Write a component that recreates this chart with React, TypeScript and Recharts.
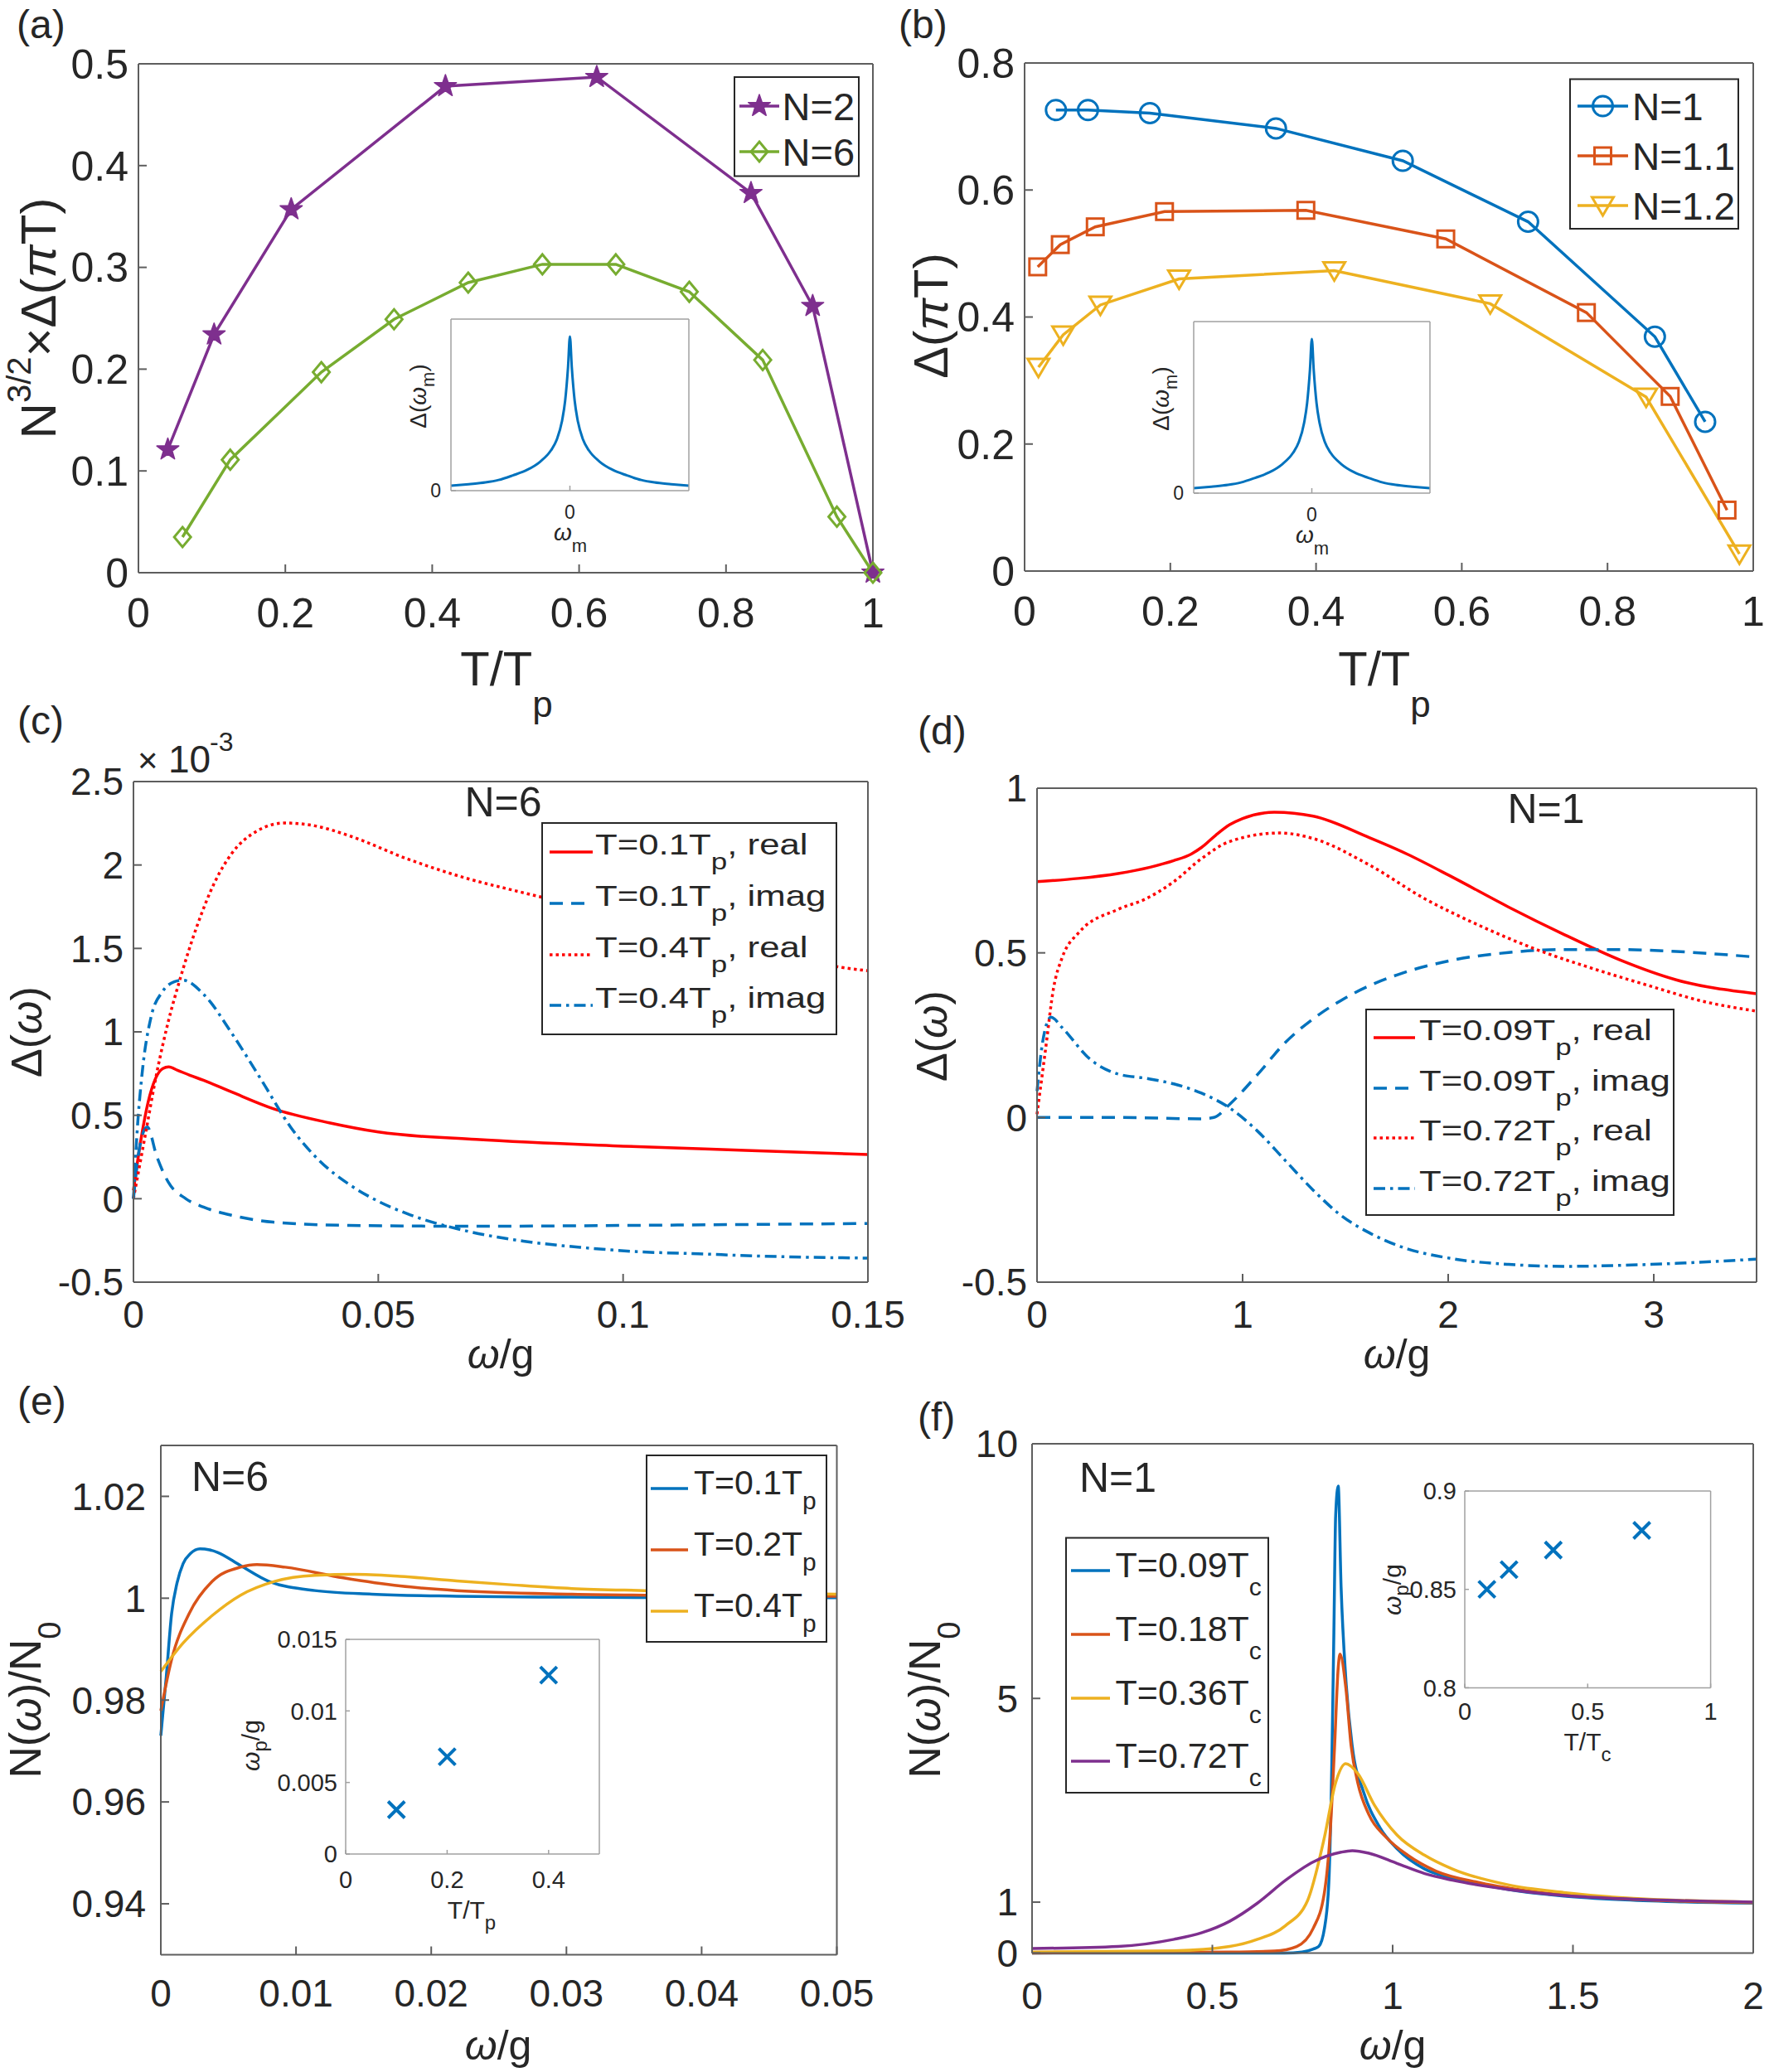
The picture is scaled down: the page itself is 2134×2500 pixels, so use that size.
import React from 'react';
import { LineChart, Line, XAxis, YAxis } from 'recharts';

// ---------- (a) scaled gap at the first Matsubara frequency ----------
const aT_N2 = [0.040, 0.103, 0.208, 0.418, 0.624, 0.834, 0.918, 1.0];
const aG_N2 = [0.121, 0.234, 0.357, 0.478, 0.487, 0.373, 0.262, 0.0];
const aT_N6 = [0.060, 0.125, 0.249, 0.348, 0.449, 0.550, 0.650, 0.750, 0.850, 0.951, 1.0];
const aG_N6 = [0.035, 0.111, 0.197, 0.249, 0.285, 0.303, 0.303, 0.276, 0.209, 0.055, 0.0];

// ---------- (b) gap for N close to 1 ----------
const bT_N1 = [0.043, 0.087, 0.172, 0.345, 0.519, 0.691, 0.865, 0.934];
const bG_N1 = [0.726, 0.726, 0.721, 0.697, 0.646, 0.550, 0.369, 0.235];
const bT_N11 = [0.018, 0.049, 0.097, 0.192, 0.386, 0.578, 0.771, 0.886, 0.964];
const bG_N11 = [0.479, 0.514, 0.542, 0.566, 0.568, 0.523, 0.407, 0.275, 0.096];
const bT_N12 = [0.019, 0.053, 0.104, 0.212, 0.425, 0.639, 0.853, 0.981];
const bG_N12 = [0.321, 0.372, 0.419, 0.460, 0.473, 0.421, 0.274, 0.027];

// ---------- insets of (a), (b): Matsubara gap profile ----------
const insetWm = [-1, -0.85, -0.71, -0.6, -0.48, -0.36, -0.25, -0.16, -0.11, -0.065, -0.04, -0.016, 0,
  0.016, 0.04, 0.065, 0.11, 0.16, 0.25, 0.36, 0.48, 0.6, 0.71, 0.85, 1];
const insetDm = [0.029, 0.038, 0.048, 0.062, 0.089, 0.121, 0.169, 0.234, 0.298, 0.411, 0.524, 0.718, 0.898,
  0.718, 0.524, 0.411, 0.298, 0.234, 0.169, 0.121, 0.089, 0.062, 0.048, 0.038, 0.029];

// ---------- (c) real-axis gap, N=6 (units of 1e-3) ----------
const cW_re01 = [0, 0.0015, 0.003, 0.0045, 0.006, 0.0072, 0.009, 0.0115, 0.0143, 0.02, 0.0285, 0.04, 0.05, 0.07, 0.1, 0.125, 0.15];
const cD_re01 = [0.05, 0.35, 0.58, 0.72, 0.78, 0.79, 0.77, 0.74, 0.71, 0.64, 0.54, 0.455, 0.40, 0.355, 0.315, 0.29, 0.265];
const cW_im01 = [0, 0.0012, 0.0028, 0.0048, 0.0071, 0.0107, 0.0143, 0.0202, 0.0285, 0.044, 0.07, 0.1, 0.15];
const cD_im01 = [0, 0.3, 0.43, 0.25, 0.1, 0.0, -0.05, -0.1, -0.14, -0.16, -0.165, -0.16, -0.148];
const cW_re04 = [0, 0.0024, 0.0048, 0.0071, 0.0095, 0.0131, 0.0166, 0.0202, 0.025, 0.0309, 0.037, 0.044, 0.0559, 0.0677, 0.0796, 0.09, 0.11, 0.13, 0.1438, 0.15];
const cD_re04 = [0, 0.38, 0.76, 1.06, 1.315, 1.644, 1.897, 2.074, 2.2, 2.252, 2.235, 2.176, 2.037, 1.923, 1.834, 1.76, 1.6, 1.47, 1.39, 1.366];
const cW_im04 = [0, 0.0007, 0.0018, 0.0036, 0.0059, 0.0083, 0.0101, 0.0143, 0.0202, 0.0262, 0.0321, 0.038, 0.044, 0.0499, 0.0559, 0.0677, 0.0796, 0.0915, 0.1034, 0.1153, 0.127, 0.15];
const cD_im04 = [0, 0.38, 0.76, 1.09, 1.24, 1.30, 1.31, 1.226, 0.986, 0.708, 0.429, 0.227, 0.087, -0.014, -0.09, -0.191, -0.254, -0.292, -0.318, -0.33, -0.343, -0.356];

// ---------- (d) real-axis gap, N=1 ----------
const dW_re009 = [0, 0.2, 0.394, 0.55, 0.665, 0.75, 0.8, 0.869, 0.937, 1.0, 1.154, 1.344, 1.616, 1.8, 2.023, 2.294, 2.566, 2.837, 3.109, 3.5];
const dD_re009 = [0.716, 0.726, 0.741, 0.76, 0.78, 0.80, 0.82, 0.857, 0.889, 0.908, 0.927, 0.915, 0.85, 0.80, 0.729, 0.639, 0.555, 0.478, 0.418, 0.376];
const dW_im009 = [0, 0.4, 0.8, 0.86, 0.937, 1.072, 1.208, 1.344, 1.48, 1.616, 1.751, 2.023, 2.294, 2.566, 2.837, 3.109, 3.5];
const dD_im009 = [0, 0, -0.004, 0.0, 0.04, 0.13, 0.228, 0.3, 0.356, 0.4, 0.433, 0.478, 0.501, 0.51, 0.51, 0.504, 0.487];
const dW_re072 = [0, 0.04, 0.081, 0.122, 0.204, 0.394, 0.529, 0.665, 0.8, 0.937, 1.18, 1.344, 1.616, 1.887, 2.159, 2.43, 2.7, 2.973, 3.245, 3.5];
const dD_re072 = [0.01, 0.2, 0.395, 0.485, 0.562, 0.632, 0.664, 0.716, 0.786, 0.838, 0.864, 0.847, 0.767, 0.664, 0.581, 0.51, 0.453, 0.401, 0.352, 0.323];
const dW_im072 = [0, 0.027, 0.068, 0.122, 0.258, 0.394, 0.529, 0.665, 0.8, 0.937, 1.072, 1.208, 1.344, 1.48, 1.616, 1.751, 2.023, 2.294, 2.566, 2.837, 3.109, 3.5];
const dD_im072 = [0.08, 0.228, 0.305, 0.273, 0.177, 0.132, 0.119, 0.102, 0.074, 0.029, -0.041, -0.131, -0.221, -0.298, -0.35, -0.388, -0.429, -0.446, -0.452, -0.449, -0.443, -0.43];

// ---------- (e) density of states, N=6 ----------
const eW_01 = [0, 0.0004, 0.0008, 0.0012, 0.00165, 0.0022, 0.0029, 0.0036, 0.0042, 0.0059, 0.008, 0.0114, 0.0156, 0.0219, 0.0304, 0.04, 0.05];
const eN_01 = [0.973, 0.9845, 0.997, 1.003, 1.0068, 1.0088, 1.0097, 1.0095, 1.009, 1.0064, 1.0033, 1.0015, 1.0008, 1.0004, 1.0002, 1.0001, 1.0001];
const eW_02 = [0, 0.0008, 0.0021, 0.0038, 0.0059, 0.0071, 0.0092, 0.0135, 0.0177, 0.0219, 0.0304, 0.04, 0.05];
const eN_02 = [0.9779, 0.988, 0.997, 1.0033, 1.0061, 1.0066, 1.0061, 1.004, 1.0024, 1.0015, 1.0008, 1.0005, 1.0004];
const eW_04 = [0, 0.00165, 0.0038, 0.0059, 0.0084, 0.0114, 0.0143, 0.0177, 0.0219, 0.0261, 0.0304, 0.0358, 0.05];
const eN_04 = [0.9856, 0.9912, 0.9966, 1.0006, 1.0033, 1.0045, 1.0047, 1.0043, 1.0034, 1.0026, 1.0019, 1.0015, 1.0008];
const eInT = [0.1, 0.2, 0.4];
const eInWp = [0.0031, 0.0068, 0.0125];

// ---------- (f) density of states, N=1 ----------
const fW_009 = [0, 0.5, 0.7, 0.749, 0.78, 0.795, 0.811, 0.823, 0.831, 0.837, 0.842, 0.849, 0.857, 0.87, 0.888, 0.919, 0.965, 1.012, 1.089, 1.166, 1.32, 1.475, 1.63, 1.784, 2];
const fN_009 = [0, 0, 0, 0.02, 0.08, 0.13, 0.49, 1.38, 3.6, 6.3, 8.6, 9.17, 7.19, 5.4, 4.06, 3.17, 2.46, 2.05, 1.65, 1.47, 1.25, 1.12, 1.05, 1.01, 0.98];
const fW_018 = [0, 0.548, 0.672, 0.734, 0.78, 0.811, 0.826, 0.839, 0.849, 0.854, 0.87, 0.885, 0.903, 0.934, 0.981, 1.042, 1.12, 1.243, 1.398, 1.63, 2];
const fN_018 = [0, 0.02, 0.04, 0.13, 0.49, 1.2, 2.28, 4.06, 5.6, 5.87, 5.22, 4.06, 3.35, 2.72, 2.28, 1.92, 1.61, 1.38, 1.2, 1.07, 0.99];
const fW_036 = [0, 0.394, 0.548, 0.625, 0.703, 0.764, 0.811, 0.842, 0.87, 0.903, 0.95, 1.012, 1.089, 1.166, 1.32, 1.475, 1.63, 2];
const fN_036 = [0.02, 0.045, 0.13, 0.27, 0.54, 1.03, 2.28, 3.35, 3.72, 3.53, 2.9, 2.32, 1.92, 1.65, 1.34, 1.19, 1.09, 1.0];
const fW_072 = [0, 0.239, 0.394, 0.471, 0.548, 0.625, 0.703, 0.78, 0.857, 0.888, 0.934, 1.012, 1.089, 1.166, 1.32, 1.475, 1.63, 2];
const fN_072 = [0.09, 0.13, 0.27, 0.4, 0.625, 0.98, 1.43, 1.79, 1.98, 2.01, 1.96, 1.76, 1.56, 1.43, 1.25, 1.13, 1.07, 1.0];
const fInT = [0.09, 0.18, 0.36, 0.72];
const fInWp = [0.85, 0.86, 0.87, 0.88];

// ---------- styling ----------
const FONT = '"Liberation Sans", Arial, Helvetica, sans-serif';
const INK = '#262626';
const BOX = '#5e5e5e';
const BOX_IN = '#a0a0a0';
const BLUE = '#0072BD';
const ORANGE = '#D95319';
const YELLOW = '#EDB120';
const PURPLE = '#7E2F8E';
const GREEN = '#77AC30';
const RED = '#FF0000';
const DASH = '16 10';
const DOT = '3.5 4';
const DASHDOT = '14 6 3.5 6';

type Pt = { x: number; y: number };
const pts = (xs: number[], ys: number[]): Pt[] => xs.map((x, i) => ({ x, y: ys[i] }));

type MarkerKind = 'star' | 'diamond' | 'circle' | 'square' | 'tri' | 'x';

function starPoints(cx: number, cy: number, R: number) {
  const r = R * 0.4;
  const out: string[] = [];
  for (let k = 0; k < 10; k++) {
    const a = -Math.PI / 2 + (k * Math.PI) / 5;
    const rr = k % 2 === 0 ? R : r;
    out.push(`${cx + rr * Math.cos(a)},${cy + rr * Math.sin(a)}`);
  }
  return out.join(' ');
}

function Marker({ kind, cx, cy, color }: { kind: MarkerKind; cx: number; cy: number; color: string }) {
  switch (kind) {
    case 'star':
      return <polygon points={starPoints(cx, cy, 14)} fill={color} stroke={color} strokeWidth={1.5} strokeLinejoin="round" />;
    case 'diamond':
      return <polygon points={`${cx},${cy - 12} ${cx + 10},${cy} ${cx},${cy + 12} ${cx - 10},${cy}`} fill="none" stroke={color} strokeWidth={3} />;
    case 'circle':
      return <circle cx={cx} cy={cy} r={12} fill="none" stroke={color} strokeWidth={3} />;
    case 'square':
      return <rect x={cx - 10} y={cy - 10} width={20} height={20} fill="none" stroke={color} strokeWidth={3} />;
    case 'tri':
      return <polygon points={`${cx - 13},${cy - 10} ${cx + 13},${cy - 10} ${cx},${cy + 12}`} fill="none" stroke={color} strokeWidth={3} strokeLinejoin="miter" />;
    default:
      return (
        <path d={`M${cx - 10},${cy - 10}L${cx + 10},${cy + 10}M${cx - 10},${cy + 10}L${cx + 10},${cy - 10}`} stroke={color} strokeWidth={4} fill="none" />
      );
  }
}

const dotOf = (kind: MarkerKind, color: string) => (p: any) =>
  <Marker key={`m-${p.index}`} kind={kind} cx={p.cx} cy={p.cy} color={color} />;

// ---------- frame: box axes with inward ticks on four sides ----------
type FrameSpec = {
  left: number; top: number; w: number; h: number;
  xd: [number, number]; xt: number[];
  yd: [number, number]; yt: number[];
  fs: number; xgap: number; ygap: number; tl: number;
  stroke: string; sw: number; yw: number; xh: number;
  bg?: boolean;
};

const MT = 40;
const MR = 70;

function Frame({ f, children }: { f: FrameSpec; children?: React.ReactNode }) {
  const width = f.yw + f.w + 1 + MR;
  const height = MT + 1 + f.h + f.xh;
  const tickStyle = { fill: INK, fontSize: f.fs, fontFamily: FONT };
  const blank = () => '';
  return (
    <>
      {f.bg && (
        <div style={{ position: 'absolute', left: f.left, top: f.top, width: f.w, height: f.h, background: '#fff' }} />
      )}
      <div style={{ position: 'absolute', left: f.left - f.yw, top: f.top - MT - 1 }}>
        <LineChart width={width} height={height} margin={{ top: MT, right: MR, bottom: 0, left: 0 }}>
          <XAxis xAxisId="b" type="number" dataKey="x" domain={f.xd} ticks={f.xt} interval={0}
            height={f.xh} tickSize={-f.tl} tickMargin={f.tl + f.xgap} stroke={f.stroke} strokeWidth={f.sw}
            tick={tickStyle} />
          <XAxis xAxisId="t" orientation="top" type="number" dataKey="x" domain={f.xd} ticks={f.xt} interval={0}
            height={1} tickSize={-f.tl} tickFormatter={blank} stroke={f.stroke} strokeWidth={f.sw} />
          <YAxis yAxisId="l" type="number" dataKey="y" domain={f.yd} ticks={f.yt} interval={0}
            width={f.yw} tickSize={-f.tl} tickMargin={f.tl + f.ygap} stroke={f.stroke} strokeWidth={f.sw}
            tick={tickStyle} />
          <YAxis yAxisId="r" orientation="right" type="number" dataKey="y" domain={f.yd} ticks={f.yt} interval={0}
            width={1} tickSize={-f.tl} tickFormatter={blank} stroke={f.stroke} strokeWidth={f.sw} />
          {children}
        </LineChart>
      </div>
    </>
  );
}

function series(key: string, data: Pt[], color: string, opts: { dash?: string; kind?: MarkerKind; curve?: 'linear' | 'monotone'; sw?: number; noLine?: boolean } = {}) {
  return (
    <Line key={key} xAxisId="b" yAxisId="l" data={data} dataKey="y" type={opts.curve ?? 'monotone'}
      stroke={opts.noLine ? 'none' : color} strokeWidth={opts.sw ?? 3.5} strokeDasharray={opts.dash}
      dot={opts.kind ? dotOf(opts.kind, color) : false} activeDot={false} isAnimationActive={false} />
  );
}

// ---------- rich text (sub/superscripts) ----------
type Seg = { t: string; d?: number; fs?: number; it?: boolean };
function Rich({ x, y, fs, segs, anchor = 'start', rot = 0, sx = 1 }:
  { x: number; y: number; fs: number; segs: Seg[]; anchor?: 'start' | 'middle' | 'end'; rot?: number; sx?: number }) {
  let prev = 0;
  const spans = segs.map((s, i) => {
    const off = s.d ?? 0;
    const dy = off - prev;
    prev = off;
    return (
      <tspan key={i} dy={dy} fontSize={s.fs ?? fs} fontStyle={s.it ? 'italic' : 'normal'}>{s.t}</tspan>
    );
  });
  let tf = `translate(${x},${y})`;
  if (rot) tf += ` rotate(${rot})`;
  if (sx !== 1) tf += ` scale(${sx},1)`;
  return (
    <text transform={tf} x={0} y={0} fontSize={fs} fontFamily={FONT} fill={INK} textAnchor={anchor} style={{ whiteSpace: 'pre' }}>
      {spans}
    </text>
  );
}

type LegendRow = { color: string; dash?: string; kind?: MarkerKind; cy: number; segs: Seg[] };
function LegendBlock({ x, y, w, h, lx1, lx2, tx, fs, base, sx = 1, rows }:
  { x: number; y: number; w: number; h: number; lx1: number; lx2: number; tx: number; fs: number; base: number; sx?: number; rows: LegendRow[] }) {
  return (
    <g>
      <rect x={x} y={y} width={w} height={h} fill="#fff" stroke={INK} strokeWidth={2} />
      {rows.map((r, i) => (
        <g key={i}>
          <line x1={lx1} x2={lx2} y1={r.cy} y2={r.cy} stroke={r.color} strokeWidth={3.5} strokeDasharray={r.dash} />
          {r.kind && <Marker kind={r.kind} cx={(lx1 + lx2) / 2} cy={r.cy} color={r.color} />}
          <Rich x={tx} y={r.cy + base} fs={fs} sx={sx} segs={r.segs} />
        </g>
      ))}
    </g>
  );
}

// ---------- frames ----------
const fa: FrameSpec = { left: 167, top: 77, w: 886, h: 614, xd: [0, 1], xt: [0, 0.2, 0.4, 0.6, 0.8, 1], yd: [0, 0.5], yt: [0, 0.1, 0.2, 0.3, 0.4, 0.5], fs: 50, xgap: 30, ygap: 12, tl: 10, stroke: BOX, sw: 2, yw: 130, xh: 100 };
const fb: FrameSpec = { left: 1236, top: 76, w: 879, h: 613, xd: [0, 1], xt: [0, 0.2, 0.4, 0.6, 0.8, 1], yd: [0, 0.8], yt: [0, 0.2, 0.4, 0.6, 0.8], fs: 50, xgap: 30, ygap: 12, tl: 10, stroke: BOX, sw: 2, yw: 130, xh: 100 };
const fc: FrameSpec = { left: 161, top: 943, w: 886, h: 604, xd: [0, 0.15], xt: [0, 0.05, 0.1, 0.15], yd: [-0.5, 2.5], yt: [-0.5, 0, 0.5, 1, 1.5, 2, 2.5], fs: 46, xgap: 22, ygap: 12, tl: 10, stroke: BOX, sw: 2, yw: 130, xh: 100 };
const fd: FrameSpec = { left: 1251, top: 951, w: 868, h: 596, xd: [0, 3.5], xt: [0, 1, 2, 3], yd: [-0.5, 1], yt: [-0.5, 0, 0.5, 1], fs: 46, xgap: 22, ygap: 12, tl: 10, stroke: BOX, sw: 2, yw: 130, xh: 100 };
const fe: FrameSpec = { left: 193.5, top: 1744, w: 815.5, h: 614.5, xd: [0, 0.05], xt: [0, 0.01, 0.02, 0.03, 0.04, 0.05], yd: [0.93, 1.03], yt: [0.94, 0.96, 0.98, 1, 1.02], fs: 46, xgap: 30, ygap: 18, tl: 10, stroke: BOX, sw: 2, yw: 130, xh: 100 };
const ff: FrameSpec = { left: 1245, top: 1741.5, w: 870, h: 614.5, xd: [0, 2], xt: [0, 0.5, 1, 1.5, 2], yd: [0, 10], yt: [0, 1, 5, 10], fs: 46, xgap: 35, ygap: 17, tl: 10, stroke: BOX, sw: 2, yw: 130, xh: 100 };

const ia: FrameSpec = { left: 544, top: 385, w: 287, h: 207, xd: [-1, 1], xt: [0], yd: [0, 1], yt: [0], fs: 23, xgap: 18, ygap: 12, tl: 6, stroke: BOX_IN, sw: 1.5, yw: 50, xh: 50, bg: true };
const ib: FrameSpec = { left: 1440, top: 388, w: 285, h: 207, xd: [-1, 1], xt: [0], yd: [0, 1], yt: [0], fs: 23, xgap: 18, ygap: 12, tl: 6, stroke: BOX_IN, sw: 1.5, yw: 50, xh: 50, bg: true };
const ie: FrameSpec = { left: 416.7, top: 1978, w: 306, h: 259, xd: [0, 0.5], xt: [0, 0.2, 0.4], yd: [0, 0.015], yt: [0, 0.005, 0.01, 0.015], fs: 29, xgap: 20, ygap: 10, tl: 5, stroke: BOX_IN, sw: 1.5, yw: 100, xh: 60, bg: true };
const iff: FrameSpec = { left: 1766.7, top: 1799.3, w: 296.6, h: 237.4, xd: [0, 1], xt: [0, 0.5, 1], yd: [0.8, 0.9], yt: [0.8, 0.85, 0.9], fs: 29, xgap: 18, ygap: 10, tl: 5, stroke: BOX_IN, sw: 1.5, yw: 100, xh: 60, bg: true };

const sub = (t: string, d: number, fs: number): Seg => ({ t, d, fs });

export default function App() {
  return (
    <div style={{ position: 'absolute', left: 0, top: 0, width: 2134, height: 2500, background: '#fff', overflow: 'hidden' }}>
      <Frame f={fa}>
        {[
          series('n2', pts(aT_N2, aG_N2), PURPLE, { kind: 'star', curve: 'linear' }),
          series('n6', pts(aT_N6, aG_N6), GREEN, { kind: 'diamond', curve: 'linear' }),
        ]}
      </Frame>
      <Frame f={fb}>
        {[
          series('n1', pts(bT_N1, bG_N1), BLUE, { kind: 'circle', curve: 'linear' }),
          series('n11', pts(bT_N11, bG_N11), ORANGE, { kind: 'square', curve: 'linear' }),
          series('n12', pts(bT_N12, bG_N12), YELLOW, { kind: 'tri', curve: 'linear' }),
        ]}
      </Frame>
      <Frame f={fc}>
        {[
          series('re01', pts(cW_re01, cD_re01), RED),
          series('im01', pts(cW_im01, cD_im01), BLUE, { dash: DASH }),
          series('re04', pts(cW_re04, cD_re04), RED, { dash: DOT }),
          series('im04', pts(cW_im04, cD_im04), BLUE, { dash: DASHDOT }),
        ]}
      </Frame>
      <Frame f={fd}>
        {[
          series('re009', pts(dW_re009, dD_re009), RED),
          series('im009', pts(dW_im009, dD_im009), BLUE, { dash: DASH }),
          series('re072', pts(dW_re072, dD_re072), RED, { dash: DOT }),
          series('im072', pts(dW_im072, dD_im072), BLUE, { dash: DASHDOT }),
        ]}
      </Frame>
      <Frame f={fe}>
        {[
          series('e01', pts(eW_01, eN_01), BLUE),
          series('e02', pts(eW_02, eN_02), ORANGE),
          series('e04', pts(eW_04, eN_04), YELLOW),
        ]}
      </Frame>
      <Frame f={ff}>
        {[
          series('f009', pts(fW_009, fN_009), BLUE),
          series('f018', pts(fW_018, fN_018), ORANGE),
          series('f036', pts(fW_036, fN_036), YELLOW),
          series('f072', pts(fW_072, fN_072), PURPLE),
        ]}
      </Frame>

      {/* insets */}
      <Frame f={ia}>{[series('ia', pts(insetWm, insetDm), BLUE, { sw: 3 })]}</Frame>
      <Frame f={ib}>{[series('ib', pts(insetWm, insetDm), BLUE, { sw: 3 })]}</Frame>
      <Frame f={ie}>{[series('ie', pts(eInT, eInWp), BLUE, { kind: 'x', noLine: true })]}</Frame>
      <Frame f={iff}>{[series('if', pts(fInT, fInWp), BLUE, { kind: 'x', noLine: true })]}</Frame>

      {/* labels, titles and legends */}
      <svg width={2134} height={2500} style={{ position: 'absolute', left: 0, top: 0, pointerEvents: 'none' }}>
        <Rich x={20} y={46} fs={48} segs={[{ t: '(a)' }]} />
        <Rich x={1084} y={46} fs={48} segs={[{ t: '(b)' }]} />
        <Rich x={21} y={886} fs={48} segs={[{ t: '(c)' }]} />
        <Rich x={1107} y={898} fs={48} segs={[{ t: '(d)' }]} />
        <Rich x={21} y={1707} fs={48} segs={[{ t: '(e)' }]} />
        <Rich x={1107} y={1726} fs={48} segs={[{ t: '(f)' }]} />

        {/* x axis titles */}
        <Rich x={611} y={827} fs={58} anchor="middle" segs={[{ t: 'T/T' }, sub('p', 38, 44)]} />
        <Rich x={1670} y={827} fs={58} anchor="middle" segs={[{ t: 'T/T' }, sub('p', 38, 44)]} />
        <Rich x={604} y={1651} fs={50} anchor="middle" segs={[{ t: 'ω', it: true }, { t: '/g' }]} />
        <Rich x={1685} y={1651} fs={50} anchor="middle" segs={[{ t: 'ω', it: true }, { t: '/g' }]} />
        <Rich x={601} y={2485} fs={50} anchor="middle" segs={[{ t: 'ω', it: true }, { t: '/g' }]} />
        <Rich x={1680} y={2485} fs={50} anchor="middle" segs={[{ t: 'ω', it: true }, { t: '/g' }]} />

        {/* y axis titles */}
        <Rich x={67} y={384} fs={60} anchor="middle" rot={-90}
          segs={[{ t: 'N' }, sub('3/2', -30, 40), { t: '×', d: 0 }, { t: 'Δ(' }, { t: 'π', it: true }, { t: 'T)' }]} />
        <Rich x={1143} y={381} fs={58} anchor="middle" rot={-90} segs={[{ t: 'Δ(' }, { t: 'π', it: true }, { t: 'T)' }]} />
        <Rich x={50} y={1245} fs={52} anchor="middle" rot={-90} segs={[{ t: 'Δ(' }, { t: 'ω', it: true }, { t: ')' }]} />
        <Rich x={1142} y={1250} fs={52} anchor="middle" rot={-90} segs={[{ t: 'Δ(' }, { t: 'ω', it: true }, { t: ')' }]} />
        <Rich x={49} y={2051} fs={53} anchor="middle" rot={-90} segs={[{ t: 'N(' }, { t: 'ω', it: true }, { t: ')/N' }, sub('0', 24, 38)]} />
        <Rich x={1134} y={2051} fs={53} anchor="middle" rot={-90} segs={[{ t: 'N(' }, { t: 'ω', it: true }, { t: ')/N' }, sub('0', 24, 38)]} />

        {/* panel titles */}
        <Rich x={607} y={985} fs={50} anchor="middle" segs={[{ t: 'N=6' }]} />
        <Rich x={1865} y={993} fs={50} anchor="middle" segs={[{ t: 'N=1' }]} />
        <Rich x={231} y={1799} fs={50} segs={[{ t: 'N=6' }]} />
        <Rich x={1302} y={1800} fs={50} segs={[{ t: 'N=1' }]} />

        {/* exponent of (c) */}
        <Rich x={166} y={932} fs={42} segs={[{ t: '×' }]} />
        <Rich x={203} y={932} fs={46} segs={[{ t: '10' }]} />
        <Rich x={253} y={906} fs={32} segs={[{ t: '-3' }]} />

        {/* inset titles */}
        <Rich x={514} y={478} fs={28} anchor="middle" rot={-90} segs={[{ t: 'Δ(' }, { t: 'ω', it: true }, sub('m', 10, 22), { t: ')', d: 0 }]} />
        <Rich x={688} y={652} fs={28} anchor="middle" segs={[{ t: 'ω', it: true }, sub('m', 14, 22)]} />
        <Rich x={1410} y={481} fs={28} anchor="middle" rot={-90} segs={[{ t: 'Δ(' }, { t: 'ω', it: true }, sub('m', 10, 22), { t: ')', d: 0 }]} />
        <Rich x={1583} y={655} fs={28} anchor="middle" segs={[{ t: 'ω', it: true }, sub('m', 14, 22)]} />
        <Rich x={313} y={2106} fs={30} anchor="middle" rot={-90} segs={[{ t: 'ω', it: true }, sub('p', 9, 24), { t: '/g', d: 0 }]} />
        <Rich x={569} y={2315} fs={30} anchor="middle" segs={[{ t: 'T/T' }, sub('p', 13, 24)]} />
        <Rich x={1690} y={1918} fs={30} anchor="middle" rot={-90} segs={[{ t: 'ω', it: true }, sub('p', 9, 24), { t: '/g', d: 0 }]} />
        <Rich x={1915} y={2112} fs={30} anchor="middle" segs={[{ t: 'T/T' }, sub('c', 13, 24)]} />

        {/* legends */}
        <LegendBlock x={886} y={93} w={150} h={119.5} lx1={892} lx2={940} tx={943.5} fs={47} base={17}
          rows={[
            { color: PURPLE, kind: 'star', cy: 128, segs: [{ t: 'N=2' }] },
            { color: GREEN, kind: 'diamond', cy: 183, segs: [{ t: 'N=6' }] },
          ]} />
        <LegendBlock x={1894} y={95.5} w={203} h={180.5} lx1={1903} lx2={1964} tx={1969} fs={46} base={17}
          rows={[
            { color: BLUE, kind: 'circle', cy: 128, segs: [{ t: 'N=1' }] },
            { color: ORANGE, kind: 'square', cy: 188, segs: [{ t: 'N=1.1' }] },
            { color: YELLOW, kind: 'tri', cy: 248, segs: [{ t: 'N=1.2' }] },
          ]} />
        <LegendBlock x={654} y={993} w={355} h={255} lx1={663} lx2={715} tx={718} fs={35} sx={1.25} base={3}
          rows={[
            { color: RED, cy: 1028, segs: [{ t: 'T=0.1T' }, sub('p', 18, 28), { t: ', real', d: 0 }] },
            { color: BLUE, dash: DASH, cy: 1090, segs: [{ t: 'T=0.1T' }, sub('p', 18, 28), { t: ', imag', d: 0 }] },
            { color: RED, dash: DOT, cy: 1152, segs: [{ t: 'T=0.4T' }, sub('p', 18, 28), { t: ', real', d: 0 }] },
            { color: BLUE, dash: DASHDOT, cy: 1213, segs: [{ t: 'T=0.4T' }, sub('p', 18, 28), { t: ', imag', d: 0 }] },
          ]} />
        <LegendBlock x={1648} y={1218} w={371} h={248} lx1={1657} lx2={1707} tx={1712} fs={35} sx={1.25} base={3}
          rows={[
            { color: RED, cy: 1252, segs: [{ t: 'T=0.09T' }, sub('p', 18, 28), { t: ', real', d: 0 }] },
            { color: BLUE, dash: DASH, cy: 1313, segs: [{ t: 'T=0.09T' }, sub('p', 18, 28), { t: ', imag', d: 0 }] },
            { color: RED, dash: DOT, cy: 1373, segs: [{ t: 'T=0.72T' }, sub('p', 18, 28), { t: ', real', d: 0 }] },
            { color: BLUE, dash: DASHDOT, cy: 1434, segs: [{ t: 'T=0.72T' }, sub('p', 18, 28), { t: ', imag', d: 0 }] },
          ]} />
        <LegendBlock x={780} y={1756} w={217} h={225} lx1={785} lx2={830} tx={837} fs={41} base={7}
          rows={[
            { color: BLUE, cy: 1796, segs: [{ t: 'T=0.1T' }, sub('p', 18, 30)] },
            { color: ORANGE, cy: 1870, segs: [{ t: 'T=0.2T' }, sub('p', 18, 30)] },
            { color: YELLOW, cy: 1944, segs: [{ t: 'T=0.4T' }, sub('p', 18, 30)] },
          ]} />
        <LegendBlock x={1286} y={1855.5} w={244} h={307.5} lx1={1292} lx2={1339} tx={1345.5} fs={43} base={8}
          rows={[
            { color: BLUE, cy: 1895, segs: [{ t: 'T=0.09T' }, sub('c', 22, 30)] },
            { color: ORANGE, cy: 1972, segs: [{ t: 'T=0.18T' }, sub('c', 22, 30)] },
            { color: YELLOW, cy: 2049, segs: [{ t: 'T=0.36T' }, sub('c', 22, 30)] },
            { color: PURPLE, cy: 2125, segs: [{ t: 'T=0.72T' }, sub('c', 22, 30)] },
          ]} />
      </svg>
    </div>
  );
}
